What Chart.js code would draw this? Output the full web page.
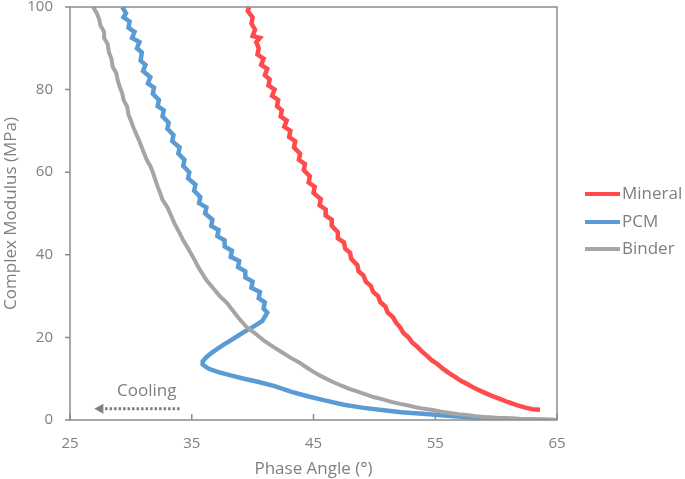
<!DOCTYPE html>
<html>
<head>
<meta charset="utf-8">
<script src="https://cdn.jsdelivr.net/npm/chart.js@4/dist/chart.umd.min.js"></script>
<style>
  body { margin: 0; background: #fff; }
  #wrap { width: 685px; height: 479px; }
</style>
</head>
<body>
<div id="wrap"><canvas id="myChart"></canvas></div>
<script>
// phase angle (deg), complex modulus (MPa)
const mineral = [
  [39.7,100],[39.6,99],[40.0,97.5],[39.9,96],[40.2,94.5],[40.0,93],[40.6,92.5],[40.3,91.5],[40.5,90],[40.4,88.5],
  [40.9,87.5],[40.7,86],[41.2,85],[41.0,83.5],[41.4,82.5],[41.3,81],[41.8,80],[41.6,78.5],[42.1,77.5],[42.0,76],
  [42.4,75],[42.3,73.5],[42.8,72.5],[42.6,71],[43.1,70],[43.0,68.5],[43.5,67.5],[43.4,66],[43.9,64.5],[43.8,63],
  [44.3,62],[44.2,60.5],[44.7,59],[44.6,57.5],[45.1,56.5],[45.0,55],[45.6,53.5],[45.5,52],[46.0,51],[46.0,49.5],
  [46.5,48.5],[46.5,47],[47.0,45.5],[47.0,44],[47.5,43],[47.6,41.5],[48.0,40.5],[48.1,39],[48.6,37.5],[48.7,36],
  [49.1,35],[49.3,33.5],[49.7,32.5],[49.9,31],[50.3,30],[50.5,28.5],[50.9,27.5],[51.1,26],[51.5,25],[51.8,23.5],
  [52.1,22.5],[52.4,21],[52.8,20],[53.1,18.8],[53.5,17.8],[53.9,16.6],[54.3,15.6],[54.7,14.5],[55.2,13.5],[55.6,12.5],
  [56.1,11.4],[56.6,10.5],[57.1,9.5],[57.7,8.6],[58.3,7.6],[58.9,6.8],[59.6,5.9],[60.3,5.1],[61.0,4.3],[61.7,3.6],
  [62.4,3.0],[63.0,2.6],[63.6,2.5]
];
const pcm = [
  [29.3,100],[29.6,98.5],[29.4,97.5],[29.9,96.5],[29.8,95],[30.3,94],[30.1,92.5],[30.7,91.5],[30.5,90],[30.9,89],
  [30.8,87],[31.2,86],[31.0,84.5],[31.6,83],[31.4,81.5],[31.9,80.5],[31.8,79],[32.3,77.5],[32.2,76],[32.7,75],
  [32.6,73.5],[33.1,72],[33.0,70.5],[33.5,69],[33.4,67.5],[34.0,66],[33.9,64.5],[34.4,63],[34.3,61.5],[34.8,60],
  [34.7,58.5],[35.3,57],[35.2,55.5],[35.7,54],[35.6,52.5],[36.2,51.5],[36.1,50],[36.7,48.5],[36.6,47],[37.2,46],
  [37.1,44.5],[37.7,43.5],[37.7,42],[38.3,41],[38.2,39.5],[38.9,38.5],[38.8,37],[39.4,36],[39.4,34.5],[40.0,33.5],
  [39.9,32],[40.6,31],[40.5,29.5],[41.0,28.5],[40.9,27],[41.2,26],[41.0,25],[40.8,24],[40.4,23.2],[39.9,22.3],
  [39.4,21.5],[38.8,20.4],[38.2,19.3],[37.6,18.2],[37.1,17.2],[36.6,16.2],[36.2,15.2],[35.9,14.2],[35.9,13.4],[36.4,12.4],
  [37.2,11.6],[38.2,10.8],[39.3,10.0],[40.5,9.2],[41.8,8.2],[43.2,6.8],[44.6,5.7],[46.0,4.7],[47.5,3.7],[49.0,3.0],
  [50.6,2.4],[52.2,1.9],[54.0,1.5],[56.0,1.0],[58.0,0.6],[60.0,0.4],[62.0,0.2],[64.0,0.05],[64.8,0]
];
const binder = [
  [26.9,100],[27.2,98.5],[27.4,97],[27.5,95.5],[27.8,94],[27.8,92.5],[28.1,91],[28.2,89],[28.4,87.5],[28.5,85.5],
  [28.8,84],[28.9,82.5],[29.1,80.5],[29.3,79],[29.4,77.5],[29.7,75.8],[29.8,74],[30.0,72.5],[30.2,70.9],[30.4,69.5],
  [30.7,67.5],[30.9,66],[31.1,64.5],[31.3,63],[31.6,61.5],[31.8,60],[32.0,58.2],[32.2,56.5],[32.4,55],[32.6,53.3],
  [33.0,51.5],[33.3,49.5],[33.6,47.5],[34.0,45.3],[34.3,43.5],[34.7,41.5],[35.1,39.5],[35.6,36.7],[36.2,33.9],[36.8,31.8],
  [37.3,30.0],[37.9,28.3],[38.4,26.4],[38.9,24.5],[39.5,22.5],[40.2,21.0],[40.9,19.3],[41.7,17.7],[42.4,16.4],
  [43.1,15.1],[43.9,13.8],[44.5,12.6],[45.2,11.3],[45.9,10.2],[46.6,9.2],[47.3,8.3],[48.0,7.5],[48.7,6.8],[49.4,6.1],
  [50.0,5.5],[50.7,5.0],[51.4,4.4],[52.1,3.9],[52.8,3.5],[53.4,3.1],[54.1,2.7],[54.8,2.4],[55.5,2.0],[56.2,1.7],
  [56.9,1.4],[57.6,1.2],[58.3,0.9],[59.0,0.7],[59.6,0.6],[60.3,0.5],[61.0,0.4],[61.7,0.3],[62.5,0.2],[63.3,0.1],
  [64.2,0.05],[65.0,0]
];
const seriesNames = ['Mineral', 'PCM', 'Binder'];
const seriesColors = ['#FF4B4B', '#5B9BD5', '#A5A5A5'];
const xTicks = [25, 35, 45, 55, 65];
const yTicks = [0, 20, 40, 60, 80, 100];

const textGray = '#7F7F7F';
const frameGray = '#8C8C8C';
const font = "'Open Sans', sans-serif";

const toXY = arr => arr.map(p => ({x: p[0], y: p[1]}));

// box around the plot, tick marks, cooling arrow and legend
const extras = {
  id: 'extras',
  afterDatasetsDraw(chart) {
    const ctx = chart.ctx;
    const a = chart.chartArea;
    const xs = chart.scales.x, ys = chart.scales.y;
    ctx.save();
    ctx.strokeStyle = frameGray;
    ctx.lineWidth = 1.5;
    ctx.strokeRect(a.left, a.top, a.right - a.left, a.bottom - a.top);
    ctx.beginPath();
    xTicks.forEach(v => {
      const px = xs.getPixelForValue(v);
      ctx.moveTo(px, a.bottom);
      ctx.lineTo(px, a.bottom - 6);
    });
    yTicks.forEach(v => {
      const py = ys.getPixelForValue(v);
      ctx.moveTo(a.left - 5, py);
      ctx.lineTo(a.left, py);
    });
    ctx.stroke();

    // cooling arrow
    ctx.fillStyle = textGray;
    ctx.font = '17px ' + font;
    ctx.textAlign = 'center';
    ctx.textBaseline = 'middle';
    ctx.fillText('Cooling', xs.getPixelForValue(31.3), ys.getPixelForValue(7.0));
    const ay = ys.getPixelForValue(2.7);
    const x0 = xs.getPixelForValue(34.0), x1 = xs.getPixelForValue(27.0);
    ctx.strokeStyle = textGray;
    ctx.lineWidth = 3;
    ctx.setLineDash([2.5, 2]);
    ctx.beginPath();
    ctx.moveTo(x0, ay);
    ctx.lineTo(x1 + 8, ay);
    ctx.stroke();
    ctx.setLineDash([]);
    ctx.beginPath();
    ctx.moveTo(x1, ay);
    ctx.lineTo(x1 + 9, ay - 5);
    ctx.lineTo(x1 + 9, ay + 5);
    ctx.closePath();
    ctx.fill();

    // legend
    const legY = [194, 222, 249];
    ctx.textAlign = 'left';
    seriesNames.forEach((name, i) => {
      ctx.strokeStyle = seriesColors[i];
      ctx.lineWidth = 4;
      ctx.beginPath();
      ctx.moveTo(585, legY[i]);
      ctx.lineTo(620, legY[i]);
      ctx.stroke();
      ctx.fillStyle = textGray;
      ctx.fillText(name, 622, legY[i]);
    });
    ctx.restore();
  }
};

const data = [mineral, pcm, binder];
const ctx = document.getElementById('myChart');
new Chart(ctx, {
  type: 'scatter',
  data: {
    datasets: data.map((d, i) => ({
      label: seriesNames[i],
      data: toXY(d),
      showLine: true,
      borderColor: seriesColors[i],
      backgroundColor: seriesColors[i],
      borderWidth: i === 2 ? 4 : 4.5,
      pointRadius: 0,
      tension: 0,
      order: 2 - i
    }))
  },
  options: {
    responsive: true,
    maintainAspectRatio: false,
    animation: false,
    devicePixelRatio: 1,
    layout: { padding: { top: 7, right: 128, bottom: 0, left: 0 } },
    plugins: {
      legend: { display: false },
      tooltip: { enabled: false }
    },
    scales: {
      x: {
        type: 'linear',
        min: 25,
        max: 65,
        afterBuildTicks: s => { s.ticks = xTicks.map(v => ({value: v})); },
        afterFit: s => { s.height = 59; s.paddingLeft = 0; s.paddingRight = 0; },
        grid: { display: false, drawTicks: false },
        border: { display: false },
        ticks: { color: textGray, font: { family: font, size: 15 }, padding: 15 },
        title: {
          display: true,
          text: 'Phase Angle (°)',
          color: textGray,
          font: { family: font, size: 17 },
          padding: { top: 0, bottom: 0 }
        }
      },
      y: {
        type: 'linear',
        min: 0,
        max: 100,
        afterBuildTicks: s => { s.ticks = yTicks.map(v => ({value: v})); },
        afterFit: s => { s.width = 70; s.paddingTop = 0; s.paddingBottom = 0; },
        grid: { display: false, drawTicks: false },
        border: { display: false },
        ticks: { color: textGray, font: { family: font, size: 15 }, padding: 17 },
        title: {
          display: true,
          text: 'Complex Modulus (MPa)',
          color: textGray,
          font: { family: font, size: 17 },
          padding: { top: 1, bottom: 0 }
        }
      }
    }
  },
  plugins: [extras]
});
</script>
</body>
</html>
